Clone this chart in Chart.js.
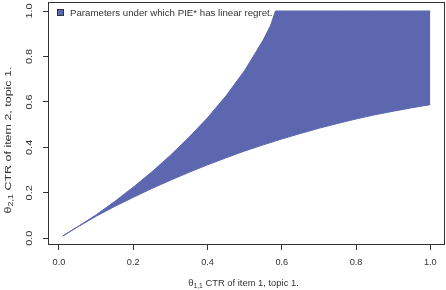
<!DOCTYPE html>
<html><head><meta charset="utf-8">
<script src="https://cdn.jsdelivr.net/npm/chart.js@4.4.1/dist/chart.umd.min.js"></script>
<style>html,body{margin:0;padding:0;background:#fff}#wrap{width:446px;height:290px}</style>
</head><body><div id="wrap"><canvas id="c" width="446" height="290"></canvas></div>
<script>
// theta_{1,1} grid (x) and the two boundaries of the region
const xValues    = [0.01, 0.05, 0.10, 0.15, 0.20, 0.25, 0.30, 0.35, 0.40, 0.45, 0.50, 0.55, 0.57, 0.583, 0.60, 0.65, 0.70, 0.75, 0.80, 0.85, 0.90, 0.95, 1.00];
const lowerBound = [0.010, 0.0495, 0.097, 0.140, 0.180, 0.219, 0.255, 0.290, 0.323, 0.354, 0.384, 0.411, 0.421, 0.428, 0.437, 0.461, 0.484, 0.505, 0.525, 0.543, 0.559, 0.574, 0.588];
const upperBound = [0.010, 0.0505, 0.103, 0.162, 0.225, 0.292, 0.365, 0.444, 0.530, 0.627, 0.738, 0.872, 0.937, 1.000, 1.000, 1.000, 1.000, 1.000, 1.000, 1.000, 1.000, 1.000, 1.000];
const xTicks = [0.0, 0.2, 0.4, 0.6, 0.8, 1.0];
const yTicks = [0.0, 0.2, 0.4, 0.6, 0.8, 1.0];
const legendLabel = 'Parameters under which PIE* has linear regret.';
const xTitleParts = ['θ', '1,1', ' CTR of item 1, topic 1.'];
const yTitleParts = ['θ', '2,1', ' CTR of item 2, topic 1.'];

const FILL = '#5c67b0';
const INK = '#333333';
const FONT = 'Liberation Sans, Arial, sans-serif';

function drawTitle(ctx, parts, cx, cy, rot, size, stretch) {
  ctx.save();
  ctx.translate(cx, cy);
  ctx.rotate(rot);
  ctx.scale(stretch, 1);
  ctx.fillStyle = INK;
  ctx.textBaseline = 'middle';
  const fMain = size + 'px ' + FONT, fSub = (size * 0.72).toFixed(2) + 'px ' + FONT;
  ctx.font = fMain; const w0 = ctx.measureText(parts[0]).width;
  ctx.font = fSub;  const w1 = ctx.measureText(parts[1]).width;
  ctx.font = fMain; const w2 = ctx.measureText(parts[2]).width;
  let x = -(w0 + w1 + w2) / 2;
  ctx.textAlign = 'left';
  ctx.font = fMain; ctx.fillText(parts[0], x, 0); x += w0;
  ctx.font = fSub;  ctx.fillText(parts[1], x, size * 0.3); x += w1;
  ctx.font = fMain; ctx.fillText(parts[2], x, 0);
  ctx.restore();
}

const decor = {
  id: 'decor',
  afterDraw(chart) {
    const ctx = chart.ctx, a = chart.chartArea;
    ctx.save();
    ctx.strokeStyle = INK; ctx.lineWidth = 1;
    ctx.strokeRect(Math.round(a.left) + 0.5, Math.round(a.top) + 0.5, Math.round(a.right - a.left) - 1, Math.round(a.bottom - a.top) - 1);
    // legend
    ctx.fillStyle = FILL; ctx.fillRect(57.5, 9.5, 6, 6);
    ctx.strokeStyle = INK; ctx.strokeRect(57.5, 9.5, 6, 6);
    ctx.fillStyle = INK; ctx.font = '9.7px ' + FONT; ctx.textBaseline = 'middle'; ctx.textAlign = 'left';
    ctx.fillText(legendLabel, 70, 13);
    // y tick labels (rotated, read bottom to top), positioned by the y scale
    const ys = chart.scales.y;
    ctx.font = '8.8px ' + FONT; ctx.textAlign = 'center';
    yTicks.forEach(v => {
      ctx.save();
      ctx.translate(30, ys.getPixelForValue(v));
      ctx.rotate(-Math.PI / 2);
      ctx.scale(1.24, 1);
      ctx.fillText(v.toFixed(1), 0, 0);
      ctx.restore();
    });
    ctx.restore();
    drawTitle(ctx, xTitleParts, 243.5, 283, 0, 9.4, 1);
    drawTitle(ctx, yTitleParts, 8.5, 140, -Math.PI / 2, 9.4, 1.33);
  }
};

const toPts = (ys) => xValues.map((x, i) => ({x: x, y: ys[i]}));

new Chart(document.getElementById('c'), {
  type: 'scatter',
  data: {
    datasets: [
      { label: 'lower', data: toPts(lowerBound), showLine: true, borderColor: FILL, backgroundColor: FILL, borderWidth: 1, pointRadius: 0, fill: false, tension: 0 },
      { label: 'upper', data: toPts(upperBound), showLine: true, borderColor: FILL, backgroundColor: FILL, borderWidth: 1, pointRadius: 0, fill: '-1', tension: 0 }
    ]
  },
  options: {
    responsive: false, animation: false, devicePixelRatio: 1,
    layout: { padding: { top: 2, right: 1, left: 0, bottom: 0 } },
    plugins: { legend: { display: false }, tooltip: { enabled: false } },
    scales: {
      x: {
        type: 'linear', min: -0.0296, max: 1.0396,
        afterBuildTicks: s => { s.ticks = xTicks.map(v => ({ value: v })); },
        afterFit: s => { s.height = 45; },
        ticks: { callback: v => Number(v).toFixed(1), font: { family: FONT, size: 9.2 }, color: INK, padding: 7, autoSkip: false, maxRotation: 0, minRotation: 0 },
        grid: { drawOnChartArea: false, drawTicks: true, tickLength: 5, color: INK },
        border: { display: false }
      },
      y: {
        type: 'linear', min: -0.0296, max: 1.0396,
        afterBuildTicks: s => { s.ticks = yTicks.map(v => ({ value: v })); },
        afterFit: s => { s.width = 48; },
        ticks: { display: false },
        grid: { drawOnChartArea: false, drawTicks: true, tickLength: 5, color: INK },
        border: { display: false }
      }
    }
  },
  plugins: [decor]
});
</script></body></html>
